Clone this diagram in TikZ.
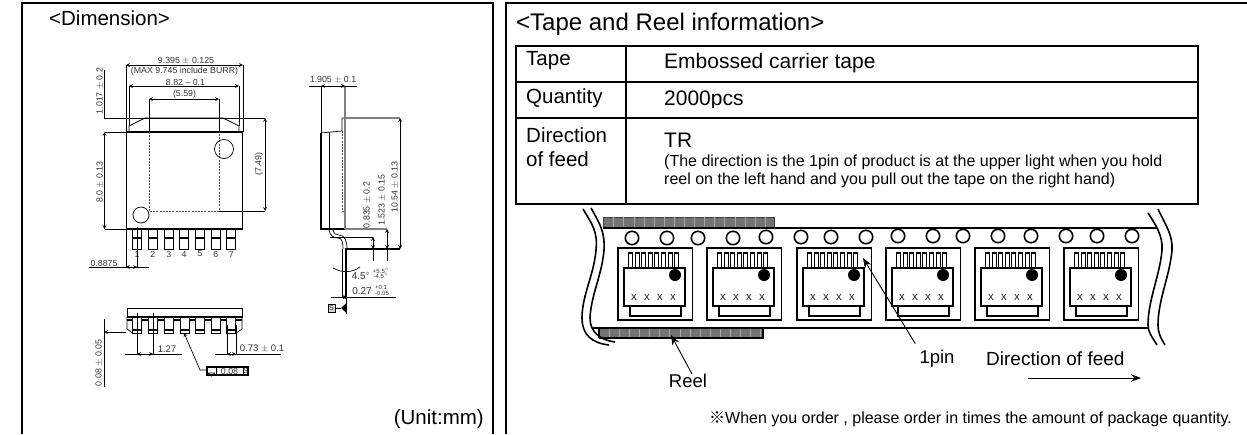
\documentclass[tikz,border=0pt]{standalone}
\usepackage{fontspec}
\usetikzlibrary{arrows.meta}
\setmainfont{Liberation Sans}
\newfontfamily\cjkfont{Noto Sans CJK JP}
\newcommand{\pxfont}[1]{\fontsize{#1}{#1}\selectfont}

\begin{document}
\begin{tikzpicture}[x=1pt, y=-1pt]

% Stilusok
\tikzstyle{frameline} = [line width=2pt]
\tikzstyle{partline} = [line width=1.1pt]
\tikzstyle{thinline} = [line width=.7pt]
\tikzstyle{hiddenline} = [line width=.8pt, dash pattern=on 2pt off 1.2pt, black!70]
\tikzstyle{dimline} = [line width=.7pt, <->, >=stealth]
\tikzstyle{dimtext} = [font=\pxfont{8.8}, text=black!80, inner sep=0pt]
\tikzstyle{tinytext} = [font=\pxfont{6}, text=black!80, inner sep=0pt]
\tikzstyle{bigtext} = [font=\pxfont{20.5}, inner sep=0pt, anchor=west]
\tikzstyle{valtext} = [font=\pxfont{21}, inner sep=0pt, anchor=west]
\tikzstyle{notetext} = [font=\pxfont{16}, inner sep=0pt, anchor=west]
\tikzstyle{labeltext} = [font=\pxfont{18.5}, inner sep=0pt]
\tikzstyle{tapeline} = [line width=1.6pt]
\tikzstyle{arrow} = [line width=.9pt, -{Stealth[length=10pt,width=7.5pt]}]

\useasboundingbox (0,0) rectangle (1247,434);

% Keretek
\draw [frameline] (22,434) -- (22,3) -- (492.5,3) -- (492.5,434);
\draw [frameline] (506,434) -- (506,3) -- (1247,3);
\node (dimtitle) [bigtext] at (49,18) {<Dimension>};
\node (unit) [bigtext, anchor=east] at (484,419) {(Unit:mm)};
\node (tapetitle) [bigtext, font=\pxfont{24}] at (516,24) {<Tape and Reel information>};

% Felulnezet
\draw [partline] (126.5,132) rectangle (242.5,229);
\draw [thinline] (129,132) -- (129,126) -- (145,118) -- (223,118) -- (239,126) -- (239,132);
\draw [hiddenline] (149,132) -- (149,211) -- (219,211) -- (219,132);
\draw [thinline] (224,149) circle (9.5);
\draw [thinline] (141,215) circle (8);
\foreach \px/\num in {137/1,152.7/2,168.7/3,184/4,200/5,215.7/6,231.3/7} {
  \draw [thinline] (\px-4.5,229) rectangle (\px+4.5,249);
  \draw [partline] (\px-4.5,238) -- (\px+4.5,238);
  \node [dimtext] at (\px,254) {\num};
}
\draw [thinline] (137,227) -- (137,268);
\draw [thinline] (126,229) -- (126,268);
\draw [thinline] (89,267) -- (149,267);
\node (pitch) [dimtext] at (104,263) {0.8875};
\draw [dimline] (126,267) -- (137,267);

\draw [thinline] (126,65) -- (126,132);
\draw [thinline] (243,65) -- (243,132);
\draw [thinline] (129,86) -- (129,126);
\draw [thinline] (239,86) -- (239,126);
\draw [thinline] (149,99) -- (149,132);
\draw [thinline] (219,99) -- (219,132);
\draw [dimline] (126,65) -- (243,65);
\draw [dimline] (129,86) -- (239,86);
\draw [dimline] (149,99) -- (219,99);
\node (widthmax) [dimtext] at (186,61) {9.395 $\pm$ 0.125};
\node (burr) [dimtext] at (184.5,71) {(MAX 9.745 include BURR)};
\node (widthlead) [dimtext] at (185.5,82) {8.82 -- 0.1};
\node (widthin) [dimtext] at (184.5,94) {(5.59)};

\draw [thinline] (104,118) -- (265,118);
\draw [thinline] (219,211) -- (265,211);
\draw [dimline] (265,118) -- (265,211);
\node (heightin) [dimtext, rotate=90] at (259,164) {(7.49)};
\draw [thinline] (104.5,70) -- (104.5,118);
\draw [thinline] (104.5,132) -- (127,132);
\draw [thinline] (104.5,229) -- (126,229);
\draw [dimline] (104.5,132) -- (104.5,229);
\node (tabh) [dimtext, rotate=90] at (100,91) {1.017 $\pm$ 0.2};
\node (bodyh) [dimtext, rotate=90] at (100,182) {8.0 $\pm$ 0.13};

% Alulnezet
\draw [thinline] (127,317) -- (127,308) -- (242,308) -- (242,317);
\draw [partline] (126.5,317) -- (242.5,317);
\draw [thinline] (127,317) -- (127,329) -- (132.7,333);
\draw [thinline] (242,317) -- (242,329) -- (236,333);
\draw [partline] (127,320) -- (132.7,320);
\foreach \px in {137.2,153,168.7,184.7,200,215.7,231.2} {
  \draw [thinline] (\px-4.5,317) rectangle (\px+4.5,333);
  \draw [partline] (\px-4.5,330) -- (\px+4.5,330);
  \draw [partline] (\px+4.5,320) -- (\px+11,320);
}
\draw [thinline] (137,313) -- (137,354);
\draw [thinline] (153,313) -- (153,354);
\draw [thinline] (125,354) -- (182,354);
\draw [dimline] (137,354) -- (153,354);
\node (pinpitch) [dimtext, font=\pxfont{9.5}] at (167,349) {1.27};
\draw [thinline] (227,325) -- (227,354);
\draw [thinline] (236,325) -- (236,354);
\draw [thinline] (215,354) -- (281,354);
\draw [dimline] (227,354) -- (236,354);
\node (pinwidth) [dimtext, font=\pxfont{9.5}] at (262,349) {0.73 $\pm$ 0.1};
\draw [thinline, ->, >=stealth] (207,370) -- (200,370) -- (184,333);
\draw [partline, fill=white] (207,367) rectangle (248,375);
\draw [thinline] (216,367) -- (216,375);
\draw [thinline] (243,367) -- (243,375);
\draw [thinline] (208.5,373) arc (180:0:3) -- cycle;
\node (flatval) [dimtext] at (229.5,371) {0.08};
\node (flats) [dimtext, font=\pxfont{7.5}] at (245.5,371) {S};
\draw [thinline] (104,319) -- (104,387);
\draw [thinline, <-, >=stealth] (104,332) -- (126,332);
\node (standoff) [dimtext, rotate=90] at (99,363) {0.08 $\pm$ 0.05};

% Oldalnezet
\draw [partline] (321,133) -- (321,229) -- (345,229);
\draw [thinline] (321,133) -- (342,131) -- (342,118) -- (345,118);
\draw [thinline] (329,132) -- (329,229);
\draw [partline, black!50] (345,86) -- (345,229);
\draw [hiddenline] (342,131) -- (342,211) -- (345,211);
\draw [thinline] (321,86) -- (321,133);
\draw [thinline] (309,86) -- (357,86);
\draw [dimline] (321,86) -- (345,86);
\node (thick) [dimtext] at (333,80) {1.905 $\pm$ 0.1};
\draw [thinline] (329,230) .. controls (330,236) and (334,238) .. (338,238) .. controls (342,238) and (343,242) .. (343,249);
\draw [thinline] (333,230) .. controls (334,234) and (336,235) .. (339,235) .. controls (345,235) and (347,241) .. (347,249);
\draw [thinline] (342,249) -- (342,297);
\draw [thinline] (345,249) -- (345,297);
\draw [thinline] (346.5,249) -- (346.5,314);
\draw [partline, black!50] (345,118) -- (400,118);
\draw [partline, black!50] (345,229) -- (387,229);
\draw [thinline] (330,237) -- (373,237);
\draw [line width=1.4pt] (345,249) -- (400,249);
\draw [dimline] (400,118) -- (400,249);
\draw [dimline] (373,237) -- (373,249);
\draw [thinline] (373,249) -- (373,261);
\draw [dimline] (387,229) -- (387,249);
\draw [thinline] (387,249) -- (387,261);
\node (lead1) [dimtext, rotate=90] at (367,205) {0.835 $\pm$ 0.2};
\node (lead2) [dimtext, rotate=90] at (382,200) {1.523 $\pm$ 0.15};
\node (total) [dimtext, rotate=90] at (395,187) {10.54 $\pm$ 0.13};
\draw [thinline] (333,268) .. controls (342,273) and (352,273) .. (360,267);
\node (angle) [dimtext, font=\pxfont{10}] at (361,276) {4.5$^{\circ}$};
\node (angleup) [tinytext] at (381,271) {+5.5$^{\circ}$};
\node (angledn) [tinytext] at (381,276) {-4.5$^{\circ}$};
\node (tval) [dimtext, font=\pxfont{10}] at (362,291) {0.27};
\node (tup) [tinytext] at (381,287) {+0.1};
\node (tdn) [tinytext] at (382,293) {-0.05};
\draw [thinline] (331,297) -- (396,297);
\draw [dimline] (342,297) -- (346.5,297);
\node (datum) [dimtext, draw=black, line width=.8pt, fill=black!15, minimum width=7pt, minimum height=8pt, font=\pxfont{7}] at (331.5,308) {S};
\coordinate (datumtip) at (341,308);
\draw [thinline] (datum) -- (datumtip);
\fill (341,308) -- (346.5,303) -- (346.5,313) -- cycle;

% Tablazat
\draw [frameline] (516,46) rectangle (1198,204);
\draw [frameline] (626,46) -- (626,204);
\draw [frameline] (516,82) -- (1198,82);
\draw [frameline] (516,118) -- (1198,118);
\node (tapekey) [bigtext] at (526,61) {Tape};
\node (tapeval) [valtext] at (664,63) {Embossed carrier tape};
\node (qtykey) [bigtext] at (526,98) {Quantity};
\begin{scope}
\clip (660,85) rectangle (800,107.5);
\node (qtyval) [valtext] at (664,100) {2000pcs};
\end{scope}
\node (dirkey) [bigtext] at (526,135) {Direction};
\node (dirkey2) [bigtext] at (526,159) {of feed};
\node (dirval) [valtext] at (664,140) {TR};
\node (dirnote1) [notetext] at (664,162) {(The direction is the 1pin of product is at the upper light when you hold};
\node (dirnote2) [notetext] at (664,180) {reel on the left hand and you pull out the tape on the right hand)};

% Hevederszalag
\foreach \rx/\ry/\rw in {603.5/217/170.5,599/328/164} {
  \draw [fill=black!55, draw=black!75, line width=1pt] (\rx,\ry) rectangle ++(\rw,10.5);
  \foreach \k in {1,...,16} {
    \draw [black!35, line width=.5pt] (\rx+\k*10.1,\ry) -- ++(0,10.5);
  }
}
\draw [tapeline] (603,228) -- (1157,228);
\draw [tapeline] (593,328) -- (1148,328);
\draw [partline, line width=1.5pt] (599,338) -- (763,338) -- (763,328);
\draw [partline, line width=1.5pt] (599,328) -- (599,338);
\draw [tapeline] (583,209) .. controls (592,224) and (598,232) .. (596,250) .. controls (594,275) and (582,295) .. (582,318) .. controls (582,335) and (592,343) .. (609,345);
\draw [tapeline] (591,208) .. controls (600,224) and (605,232) .. (604,250) .. controls (602,275) and (591,295) .. (590,318) .. controls (590,332) and (600,340) .. (615,342);
\draw [tapeline] (1148,213) .. controls (1155,224) and (1163,235) .. (1162,250) .. controls (1160,275) and (1148,300) .. (1148,325) .. controls (1148,332) and (1152,337) .. (1157,345);
\draw [tapeline] (1158,209) .. controls (1165,224) and (1173,235) .. (1172,250) .. controls (1170,275) and (1158,300) .. (1158,325) .. controls (1158,332) and (1160,337) .. (1165,345);
\foreach \hx/\hy in {632/238,667/238,698/238,733/238,766/237,801/237,831/237,866/237,898/236,933/236,963/236,998/236,1031/236,1066/236,1097/236,1132/236} {
  \draw [tapeline] (\hx,\hy) circle (6.7);
}
\foreach \cx in {618,707,797,886,975,1064} {
  \draw [tapeline] (\cx,248) rectangle (\cx+74.5,320);
  \foreach \k in {0,...,7} {
    \draw [partline] (\cx+10.5+\k*6.6,268) -- ++(0,-15) -- ++(4,0) -- ++(0,15);
  }
  \draw [tapeline, fill=white] (\cx+6,268) rectangle (\cx+67,306);
  \draw [tapeline] (\cx+12,306) rectangle (\cx+63,316);
  \fill (\cx+57,275) circle (6);
  \foreach \m in {16,29,42,55} {
    \node [font=\pxfont{11.5}, text=black!85, inner sep=0pt] at (\cx+\m,297) {x};
  }
}

% Feliratok
\node (reel) [labeltext] at (688,381) {Reel};
\coordinate (reeltip) at (671,335);
\draw [arrow] ([xshift=4pt]reel.north) -- (reeltip);
\node (onepin) [labeltext] at (937,359) {1pin};
\coordinate (onepintip) at (863,258);
\draw [arrow] ([xshift=-4pt,yshift=6.5pt]onepin.north west) -- (onepintip);
\node (feed) [labeltext, font=\pxfont{19}, anchor=west] at (986,359) {Direction of feed};
\coordinate (feedstart) at (1028,378);
\coordinate (feedtip) at (1141,378);
\draw [arrow] (feedstart) -- (feedtip);
\node (ordernote) [notetext] at (709,419) {{\cjkfont ※}When you order , please order in times the amount of package quantity.};

\end{tikzpicture}
\end{document}
